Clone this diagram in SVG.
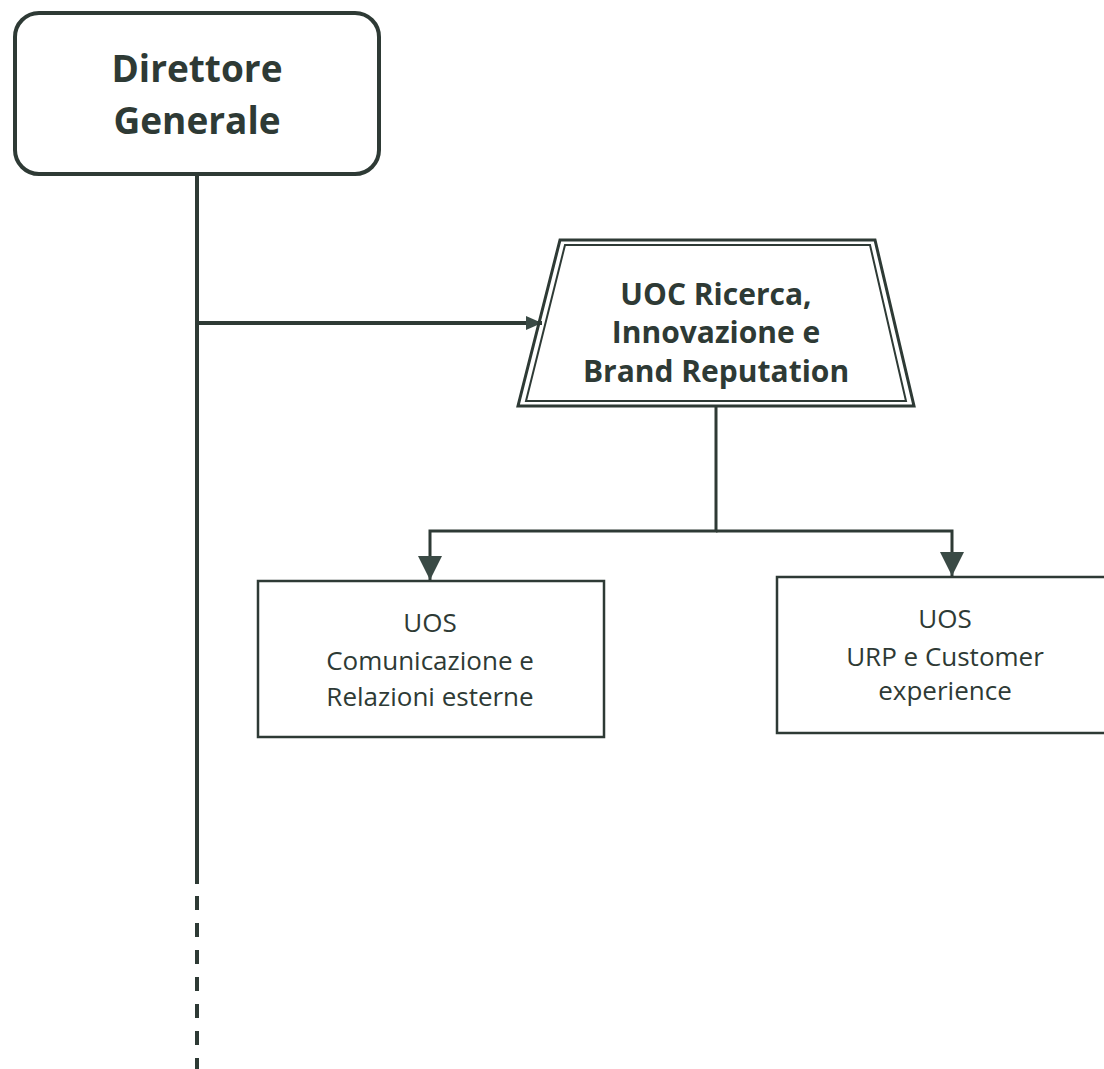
<svg xmlns="http://www.w3.org/2000/svg" width="1104" height="1069" viewBox="0 0 1104 1069">
<style>
.ln{stroke:#2e3a35;fill:none}
.t{font-family:"Open Sans","Liberation Sans",sans-serif;fill:#2e3a35;text-anchor:middle}
.b{font-weight:bold}
.s{font-size:26px}
</style>
<defs>
<marker id="ahs" markerWidth="16" markerHeight="14" refX="16" refY="7" orient="auto" markerUnits="userSpaceOnUse">
<path d="M0,0 L16,7 L0,14 Z" fill="#3a4a45"/>
</marker>
<marker id="ahd" markerWidth="24" markerHeight="24" refX="24" refY="12" orient="auto" markerUnits="userSpaceOnUse">
<path d="M0,0 L24,12 L0,24 Z" fill="#3a4a45"/>
</marker>
</defs>
<rect width="1104" height="1069" fill="#ffffff"/>
<g id="connectors">
<line class="ln" x1="197" y1="175" x2="197" y2="884" stroke-width="4"/>
<line class="ln" x1="197" y1="884" x2="197" y2="1069" stroke-width="4" stroke-dasharray="0 12 14 1"/>
<line class="ln" x1="197" y1="323" x2="542" y2="323" stroke-width="4" marker-end="url(#ahs)"/>
<polyline class="ln" points="716,406 716,531 430,531 430,580" stroke-width="3" marker-end="url(#ahd)"/>
<polyline class="ln" points="716,531 952,531 952,576" stroke-width="3" marker-end="url(#ahd)"/>
</g>
<g id="direttore">
<rect x="15" y="13" width="364" height="161" rx="24" class="ln" stroke-width="4" fill="#fff"/>
<text class="t b" x="197" y="82" font-size="37">Direttore</text>
<text class="t b" x="197" y="134" font-size="37">Generale</text>
</g>
<g id="uoc">
<polygon points="560,240 875,240 914,406 518,406" class="ln" stroke-width="3" fill="#fff"/>
<polygon points="565,245 870,245 906,401 526,401" class="ln" stroke-width="2"/>
<text class="t b" x="716" y="305" font-size="30">UOC Ricerca,</text>
<text class="t b" x="716" y="343" font-size="30">Innovazione e</text>
<text class="t b" x="716" y="382" font-size="30">Brand Reputation</text>
</g>
<g id="uos-comunicazione">
<rect x="258" y="581" width="346" height="156" class="ln" stroke-width="2.5" fill="#fff"/>
<text class="t s" x="430" y="632">UOS</text>
<text class="t s" x="430" y="670">Comunicazione e</text>
<text class="t s" x="430" y="706">Relazioni esterne</text>
</g>
<g id="uos-urp">
<rect x="777" y="577" width="340" height="156" class="ln" stroke-width="2.5" fill="#fff"/>
<text class="t s" x="945" y="628">UOS</text>
<text class="t s" x="945" y="666">URP e Customer</text>
<text class="t s" x="945" y="700">experience</text>
</g>
</svg>
